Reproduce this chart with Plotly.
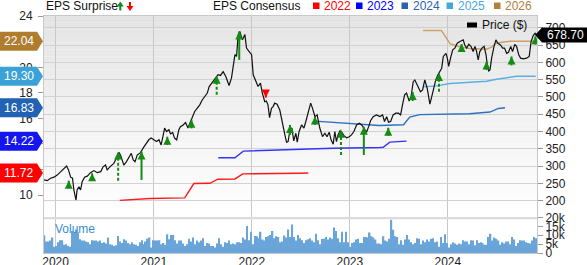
import plotly.graph_objects as go
import pandas as pd

# ---------------- data ----------------
price_dates = ['2019-11-19','2019-12-01','2019-12-13','2019-12-26','2020-01-07','2020-01-20','2020-02-01','2020-02-11','2020-02-18','2020-02-26',
 '2020-03-04','2020-03-09','2020-03-17','2020-03-21','2020-03-28','2020-04-03','2020-04-09','2020-04-18','2020-04-28','2020-05-10',
 '2020-05-23','2020-06-04','2020-06-17','2020-06-26','2020-07-05','2020-07-11','2020-07-24','2020-08-05','2020-08-17','2020-08-25',
 '2020-09-01','2020-09-11','2020-09-21','2020-10-01','2020-10-09','2020-10-16','2020-10-23','2020-10-31','2020-11-12','2020-11-22',
 '2020-12-01','2020-12-13','2020-12-22','2021-01-01','2021-01-11','2021-01-20','2021-01-28','2021-02-05','2021-02-10','2021-02-17',
 '2021-02-26','2021-03-04','2021-03-12','2021-03-19','2021-03-27','2021-04-04','2021-04-10','2021-04-20','2021-04-29','2021-05-08',
 '2021-05-18','2021-05-27','2021-06-02','2021-06-11','2021-06-21','2021-06-30','2021-07-09','2021-07-19','2021-07-26','2021-08-04',
 '2021-08-16','2021-08-28','2021-09-06','2021-09-16','2021-09-26','2021-10-08','2021-10-17','2021-10-23','2021-10-30','2021-11-05',
 '2021-11-11','2021-11-17','2021-11-27','2021-12-06','2021-12-12','2021-12-22','2021-12-31','2022-01-06','2022-01-16','2022-01-24',
 '2022-02-02','2022-02-09','2022-02-18','2022-02-24','2022-03-02','2022-03-08','2022-03-15','2022-03-21','2022-03-27','2022-04-05',
 '2022-04-15','2022-04-25','2022-05-04','2022-05-10','2022-05-16','2022-05-23','2022-05-30','2022-06-06','2022-06-14','2022-06-19',
 '2022-06-26','2022-07-05','2022-07-14','2022-07-21','2022-07-30','2022-08-08','2022-08-15','2022-08-24','2022-09-01','2022-09-11',
 '2022-09-21','2022-09-30','2022-10-08','2022-10-16','2022-10-23','2022-10-31','2022-11-06','2022-11-12','2022-11-18','2022-11-25',
 '2022-12-02','2022-12-10','2022-12-20','2022-12-30','2023-01-07','2023-01-16','2023-01-26','2023-02-05','2023-02-14','2023-02-22',
 '2023-03-04','2023-03-12','2023-03-19','2023-03-29','2023-04-10','2023-04-23','2023-05-03','2023-05-10','2023-05-18','2023-05-25',
 '2023-06-02','2023-06-11','2023-06-21','2023-07-01','2023-07-09','2023-07-16','2023-07-24','2023-07-31','2023-08-10','2023-08-17',
 '2023-08-25','2023-08-31','2023-09-06','2023-09-14','2023-09-21','2023-09-29','2023-10-07','2023-10-16','2023-10-26','2023-11-02',
 '2023-11-10','2023-11-17','2023-11-25','2023-12-02','2023-12-09','2023-12-15','2023-12-25','2023-12-30','2024-01-04','2024-01-11',
 '2024-01-19','2024-01-27','2024-02-05','2024-02-15','2024-02-27','2024-03-04','2024-03-11','2024-03-19','2024-03-27','2024-04-04',
 '2024-04-11','2024-04-17','2024-04-23','2024-04-29','2024-05-07','2024-05-15','2024-05-22','2024-05-27','2024-06-01','2024-06-06',
 '2024-06-12','2024-06-21','2024-06-28','2024-07-05','2024-07-15','2024-07-23','2024-07-30','2024-08-07','2024-08-14','2024-08-22',
 '2024-08-29','2024-09-06','2024-09-13','2024-09-21','2024-09-28','2024-10-08','2024-10-20','2024-10-30','2024-11-06','2024-11-14',
 '2024-11-21','2024-11-27']
price_values = [260,258,265,268,274,284,291,300,289,268,
 265,231,202,231,240,231,255,268,271,281,
 287,281,284,298,303,289,300,308,327,339,
 327,303,313,327,337,318,313,332,339,352,
 361,376,381,376,371,376,361,390,410,400,
 405,393,397,381,376,405,414,419,426,410,
 429,443,458,467,477,491,501,511,530,540,
 554,564,562,573,559,533,554,583,622,617,
 680,689,665,680,641,631,622,564,544,530,
 540,511,486,488,477,440,467,472,482,479,
 462,419,390,369,371,405,410,373,395,369,
 400,419,410,429,453,482,467,443,448,410,
 385,395,385,398,376,363,400,371,390,402,
 398,388,382,385,390,400,419,424,419,411,
 398,414,431,443,448,443,448,429,443,427,
 429,448,453,453,448,477,506,511,488,501,
 544,549,540,527,515,520,549,525,479,501,
 530,549,564,573,583,617,626,612,588,612,
 636,641,655,660,665,650,641,652,646,631,
 646,631,607,631,641,646,622,593,575,578,
 612,646,665,655,650,641,641,626,629,646,
 631,652,646,622,612,610,612,617,660,677,
 684,678.70]

# weekly volume (thousands of shares)
volume_k = [10,6.5,6.5,7,8.7,3.5,4,6,7.2,7.2,4.6,5,4,3.5,12.4,11.5,13.3,11.5,7.8,7,
 7,6.5,6,5,7.2,7,7,6.5,7,5.7,6,5.4,8.7,5,4.6,4,4.3,9.6,6.5,5.7,
 7.8,7,5.7,5,6.1,5,4.6,4,6,7.2,5,6.5,8,8.7,3.1,7.2,7,7,7.2,5,
 5.7,4.6,10.6,7.8,10.2,10.2,7.2,5.4,7,7,5.4,3.9,5,8,6.5,8.7,5,7,6.1,7,
 8.3,4,5.7,
 5.4,3.9,4,3.1,5.4,8.3,5,3.5,6.1,5.7,7,5,5.4,5,6.1,6.1,5.7,8.7,7.6,15.2,
 7.2,12,5,9.6,9.4,8.3,12,7.6,7,9,9.4,10.2,12.4,8.3,9.4,9,6.1,6.5,9.8,8.7,
 13.3,9,16.1,9,7,10.2,8.3,7.2,5.7,7.2,7.8,8.3,7,6.1,10.9,7.2,5,8,8,9,
 7.6,8.7,8,14.3,12.4,8.3,6.1,12,6.1,12,6.1,3.5,5.7,6.1,7.6,8,5.7,5.7,9,9,
 8.7,11.5,9.4,
 8.7,7.6,5.4,5.4,5,9.4,7,6.5,8,18.7,13.1,9.4,9,5,7.2,4.6,7.6,10.2,7.6,6.1,
 5,5.7,8.3,8,5,7,6.1,7.6,6.5,8,8.3,6.1,6.5,3.5,9,5.7,10.6,5.7,3.1,5,
 6.1,5.4,4.6,5.4,5,7.2,6.5,6.5,5,7.2,7,4.3,7.2,5.7,6.1,5.7,4.6,4.6,9,10.9,
 7,8.7,8,7,4.6,6.1,5.4,6.5,6.5,5,9,7.6,3.9,5.7,7.2,7,7,6.1,5.7,5.4,
 7,9,8.3]
volume_first_week = '2019-11-21'
volume_last_week = '2024-11-25'

# EPS consensus by fiscal year
eps2022_dates = ['2020-08-27','2020-12-17','2021-04-26','2021-05-30','2021-07-29','2021-08-27','2021-10-30','2021-11-28','2022-06-29','2022-07-30']
eps2022_values = [9.58,9.73,9.78,10.90,10.92,11.24,11.26,11.66,11.71,11.72]
eps2023_dates = ['2021-08-29','2021-10-30','2021-11-30','2022-02-24','2022-06-29','2022-10-31','2023-04-23','2023-05-05','2023-05-30','2023-07-31']
eps2023_values = [12.92,12.92,13.44,13.50,13.58,13.66,13.72,13.73,14.14,14.22]
eps2024_dates = ['2022-08-24','2022-12-15','2023-04-20','2023-07-20','2023-08-12','2023-09-18','2024-03-22','2024-06-06','2024-07-07','2024-08-01']
eps2024_values = [15.79,15.62,15.45,15.50,16.10,16.30,16.36,16.50,16.78,16.83]
eps2025_dates = ['2023-10-01','2023-11-20','2024-01-09','2024-02-27','2024-05-24','2024-06-30','2024-08-19','2024-09-13','2024-11-23']
eps2025_values = [18.47,18.55,18.73,18.78,18.91,19.07,19.25,19.30,19.30]
eps2026_dates = ['2023-10-01','2023-12-08','2023-12-20','2024-01-09','2024-02-15','2024-03-22','2024-05-24','2024-06-12','2024-06-30','2024-08-19','2024-11-23']
eps2026_values = [22.88,22.88,22.51,21.86,21.59,21.47,21.42,21.59,21.91,22.04,22.04]

eps_years = ['2022','2023','2024','2025','2026']
eps_line_colors = ['#ff1a1a','#3333ff','#2f6fc2','#5ab0e2','#c9a06a']
eps_tag_colors = ['#ff0000','#1515f0','#2262b4','#3aa2d6','#b07c2e']
eps_legend_colors = ['#ff0000','#0000ff','#2a62b0','#44a7de','#b08040']

# EPS surprise markers (price level of arrow tip and tail)
surp_dates = ['2020-02-19','2020-05-16','2020-08-21','2020-11-16','2021-02-20','2021-05-21','2021-08-23','2021-11-15','2022-02-22','2022-05-23',
              '2022-08-24','2022-11-29','2023-02-22','2023-05-24','2023-08-23','2023-11-29','2024-02-21','2024-05-24','2024-08-25','2024-11-22']
surp_top = [258,279,342,342,385,434,561,689,515,419,443,405,414,411,514,569,653,602,617,675]
surp_bottom = [236,258,258,260,361,409,506,607,498,390,419,332,332,388,488,515,631,578,591,651]
surp_dir = ['up','up','up','up','up','up','up','up','down','up','up','up','up','up','up','up','up','up','up','up']
surp_stem = ['short','short','dash','solid','short','short','dash','solid','short','short',
             'short','dash','solid','short','short','dash','short','short','short','short']

last_price = price_values[-1]

# ---------------- layout helpers ----------------
W, H = 587, 265
ML, MR, MT, MB = 44, 50, 16, 12
PW, PH = W - ML - MR, H - MT - MB
def px_x(x): return (x - ML) / PW
def px_y(y): return (H - MB - y) / PH

FONT = 'Liberation Sans, Arial, sans-serif'
GREEN = '#148c14'
RED = '#ff0000'

fig = go.Figure()

# volume
vol_dates = pd.date_range(volume_first_week, volume_last_week, periods=len(volume_k))
fig.add_trace(go.Bar(x=vol_dates, y=volume_k, xaxis='x2', yaxis='y3',
                     marker=dict(color='#6aa5da', line=dict(width=0)), showlegend=False, hoverinfo='skip'))

# EPS consensus lines (left axis)
eps_dates_all = [eps2022_dates, eps2023_dates, eps2024_dates, eps2025_dates, eps2026_dates]
eps_values_all = [eps2022_values, eps2023_values, eps2024_values, eps2025_values, eps2026_values]
for d, v, c in zip(eps_dates_all, eps_values_all, eps_line_colors):
    fig.add_trace(go.Scatter(x=d, y=v, mode='lines', line=dict(color=c, width=1.4),
                             xaxis='x', yaxis='y', showlegend=False, hoverinfo='skip'))

# price line (right axis)
fig.add_trace(go.Scatter(x=price_dates, y=price_values, mode='lines', line=dict(color='#111111', width=1.2),
                         xaxis='x', yaxis='y2', showlegend=False, hoverinfo='skip'))

# surprise stems
for style, dash in [('solid', 'solid'), ('short', 'solid'), ('dash', '3px,2px')]:
    xs, ys = [], []
    for d, t, b, s, dr in zip(surp_dates, surp_top, surp_bottom, surp_stem, surp_dir):
        if s == style and dr == 'up':
            xs += [d, d, None]; ys += [b, t, None]
    if xs:
        fig.add_trace(go.Scatter(x=xs, y=ys, mode='lines', line=dict(color=GREEN, width=2, dash=dash),
                                 xaxis='x', yaxis='y2', showlegend=False, hoverinfo='skip'))
xs, ys = [], []
for d, t, b, dr in zip(surp_dates, surp_top, surp_bottom, surp_dir):
    if dr == 'down':
        xs += [d, d, None]; ys += [t, b, None]
fig.add_trace(go.Scatter(x=xs, y=ys, mode='lines', line=dict(color=RED, width=2),
                         xaxis='x', yaxis='y2', showlegend=False, hoverinfo='skip'))
# heads
up_x = [d for d, dr in zip(surp_dates, surp_dir) if dr == 'up']
up_y = [t for t, dr in zip(surp_top, surp_dir) if dr == 'up']
dn_x = [d for d, dr in zip(surp_dates, surp_dir) if dr == 'down']
dn_y = [b for b, dr in zip(surp_bottom, surp_dir) if dr == 'down']
fig.add_trace(go.Scatter(x=up_x, y=up_y, mode='markers', marker=dict(symbol='arrow-up', size=8, color=GREEN, line=dict(width=0)),
                         xaxis='x', yaxis='y2', showlegend=False, hoverinfo='skip'))
fig.add_trace(go.Scatter(x=dn_x, y=dn_y, mode='markers', marker=dict(symbol='arrow-down', size=8, color=RED, line=dict(width=0)),
                         xaxis='x', yaxis='y2', showlegend=False, hoverinfo='skip'))

shapes, annos = [], []

# background gradient of price pane
main_bottom = px_y(217)
n_bands = 30
for i in range(n_bands):
    f0 = i / n_bands
    g = int(round(228 + (255 - 228) * (1 - (i + 0.5) / n_bands)))
    y0 = main_bottom + (1 - main_bottom) * f0
    y1 = main_bottom + (1 - main_bottom) * (i + 1) / n_bands
    shapes.append(dict(type='rect', xref='paper', yref='paper', x0=0, x1=1, y0=y0, y1=y1,
                       fillcolor=f'rgb({g},{g},{g})', line=dict(width=0), layer='below'))
# separator band
shapes.append(dict(type='rect', xref='paper', yref='paper', x0=0, x1=1, y0=px_y(219.3), y1=px_y(217.0),
                   fillcolor='#dcdcdc', line=dict(width=0), layer='above'))

# left EPS tags
for yr, vals, c in zip(eps_years, eps_values_all, eps_tag_colors):
    v = vals[-1]
    shapes.append(dict(type='path', xref='paper', yref='y', xsizemode='pixel', ysizemode='pixel',
                       xanchor=0, yanchor=v, path='M-44,-9.5 L-7,-9.5 L-1,0 L-7,9.5 L-44,9.5 Z',
                       fillcolor=c, line=dict(width=0), layer='above'))
    annos.append(dict(xref='paper', yref='y', x=px_x(18.5), y=v, text=f'{v:.2f}', showarrow=False,
                      xanchor='center', yanchor='middle', font=dict(family=FONT, size=12, color='white')))

# right price tag
shapes.append(dict(type='path', xref='paper', yref='y2', xsizemode='pixel', ysizemode='pixel',
                   xanchor=1, yanchor=last_price, path='M-2,0 L5,-7.5 L50,-7.5 L50,7.5 L5,7.5 Z',
                   fillcolor='#000000', line=dict(width=0), layer='above'))
annos.append(dict(xref='paper', yref='y2', x=px_x(565), y=last_price, text=f'{last_price:.2f}', showarrow=False,
                  xanchor='center', yanchor='middle', font=dict(family=FONT, size=12, color='white')))

# header
HY = px_y(6.5)
annos.append(dict(xref='paper', yref='paper', x=px_x(44), y=HY, text='EPS Surprise', showarrow=False,
                  xanchor='left', yanchor='middle', font=dict(family=FONT, size=12, color='#111')))
shapes.append(dict(type='path', xref='paper', yref='paper', xsizemode='pixel', ysizemode='pixel',
                   xanchor=px_x(120.3), yanchor=px_y(10.5),
                   path='M-1,0 L1,0 L1,4 L3.5,4 L0,9 L-3.5,4 L-1,4 Z', fillcolor=GREEN, line=dict(width=0)))
shapes.append(dict(type='path', xref='paper', yref='paper', xsizemode='pixel', ysizemode='pixel',
                   xanchor=px_x(130), yanchor=px_y(2),
                   path='M-1,0 L1,0 L1,-4 L3.5,-4 L0,-9 L-3.5,-4 L-1,-4 Z', fillcolor=RED, line=dict(width=0)))
annos.append(dict(xref='paper', yref='paper', x=px_x(211), y=HY, text='EPS Consensus', showarrow=False,
                  xanchor='left', yanchor='middle', font=dict(family=FONT, size=12, color='#111')))
sq_left = [313, 356, 401.5, 446.5, 494]
for yr, c, sx in zip(eps_years, eps_legend_colors, sq_left):
    shapes.append(dict(type='rect', xref='paper', yref='paper', x0=px_x(sx), x1=px_x(sx + 6.5),
                       y0=px_y(9), y1=px_y(2.5), fillcolor=c, line=dict(width=0)))
    annos.append(dict(xref='paper', yref='paper', x=px_x(sx + 9), y=HY, text=yr, showarrow=False,
                      xanchor='left', yanchor='middle', font=dict(family=FONT, size=12, color=c)))

# price legend
shapes.append(dict(type='rect', xref='paper', yref='paper', x0=px_x(467), x1=px_x(477), y0=px_y(27.5), y1=px_y(22.5),
                   fillcolor='#000', line=dict(width=0)))
annos.append(dict(xref='paper', yref='paper', x=px_x(480), y=px_y(25), text='Price ($)', showarrow=False,
                  xanchor='left', yanchor='middle', font=dict(family=FONT, size=12, color='#111')))
# volume label
annos.append(dict(xref='paper', yref='paper', x=px_x(52.5), y=px_y(228.5), text='Volume', showarrow=False,
                  xanchor='left', yanchor='middle', font=dict(family=FONT, size=12, color='#3a8cd0')))

x_range = ['2019-11-18 19:00', '2024-11-28']
axis_font = dict(family=FONT, size=12, color='#222')
common_x = dict(type='date', range=x_range, showgrid=True, gridcolor='#c8c8c8', gridwidth=1,
                dtick='M12', tick0='2020-01-01', showline=True, mirror=True, linecolor='#c8c8c8',
                zeroline=False, ticks='', automargin=False)
fig.update_layout(
    width=W, height=H, margin=dict(l=ML, r=MR, t=MT, b=MB, autoexpand=False),
    paper_bgcolor='white', plot_bgcolor='rgba(0,0,0,0)',
    showlegend=False, bargap=0.3,
    font=dict(family=FONT, size=12, color='#222'),
    xaxis=dict(domain=[0, 1], anchor='y', showticklabels=False, **common_x),
    xaxis2=dict(domain=[0, 1], anchor='y3', matches='x', showticklabels=True, tickformat='%Y',
                tickfont=axis_font, ticklabelstandoff=-2, **common_x),
    yaxis=dict(domain=[main_bottom, 1], range=[8.28, 24.02], side='left', tickvals=[10, 12, 14, 16, 18, 20, 22, 24],
               ticks='outside', ticklen=5, tickcolor='#999', showgrid=False, zeroline=False,
               showline=True, linecolor='#c8c8c8', mirror=True, tickfont=axis_font, ticklabelstandoff=3,
               automargin=False),
    yaxis2=dict(overlaying='y', side='right', range=[152.9, 733.8], tick0=0, dtick=50,
                ticks='outside', ticklen=5, tickcolor='#999', showgrid=True, gridcolor='#d2d2d2',
                zeroline=False, tickfont=axis_font, automargin=False),
    yaxis3=dict(domain=[0, px_y(217.5)], range=[0, 20], side='right', anchor='x2',
                tickvals=[0, 5, 10, 15, 20], ticktext=['0', '5k', '10k', '15k', '20k'],
                ticks='outside', ticklen=5, tickcolor='#999', showgrid=False, zeroline=False,
                showline=True, linecolor='#c8c8c8', mirror=True, tickfont=axis_font, automargin=False),
    shapes=shapes, annotations=annos,
)

fig.write_html('out.html')
